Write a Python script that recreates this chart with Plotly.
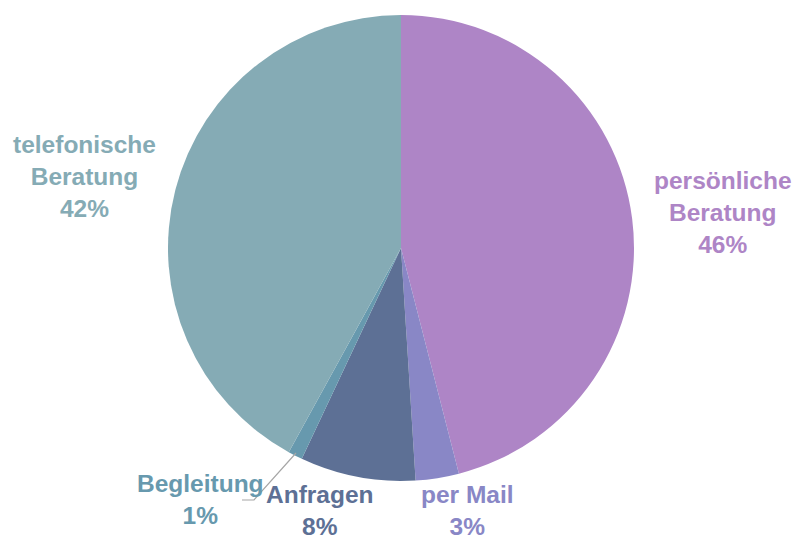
import plotly.graph_objects as go

# Anteile der Beratungsformen (in %)
labels = ['persönliche<br>Beratung', 'per Mail', 'Anfragen', 'Begleitung', 'telefonische<br>Beratung']
values = [46, 3, 8, 1, 42]
colors = ['#AE85C6', '#8987C6', '#5D7095', '#6799AE', '#85ABB5']

W, H = 795, 540


def px(x):
    return x / W


def py(y):
    return 1 - y / H


fig = go.Figure()

fig.add_trace(go.Pie(
    labels=labels,
    values=values,
    sort=False,
    direction='clockwise',
    rotation=0,
    marker=dict(colors=colors, line=dict(width=0)),
    textinfo='none',
    showlegend=False,
    domain=dict(x=[px(168), px(634)], y=[py(481), py(15)]),
    hoverinfo='label+percent'
))

# label positions (pixel centres of the text blocks)
label_pos = [(723, 212), (467, 510), (320, 510), (200, 499), (84, 176)]
total = sum(values)
for lab, val, col, (lx, ly) in zip(labels, values, colors, label_pos):
    fig.add_annotation(
        x=px(lx), y=py(ly), xref='paper', yref='paper',
        text=f'{lab}<br>{round(100 * val / total)}%',
        showarrow=False,
        xanchor='center', yanchor='middle',
        font=dict(family='Liberation Sans, Arial', size=24.5, color=col, weight='bold'),
    )

# leader line for "Begleitung"
pts = [(296, 453), (254, 500), (242, 500)]
fig.add_shape(
    type='path', xref='paper', yref='paper',
    path='M ' + ' L '.join(f'{px(x)},{py(y)}' for x, y in pts),
    line=dict(color='#A6A6A6', width=1.2),
)

fig.update_layout(
    width=W,
    height=H,
    margin=dict(l=0, r=0, t=0, b=0),
    paper_bgcolor='white',
    plot_bgcolor='white',
)

# drop the default page margin so the figure sits exactly in the window
fig.write_html(
    "out.html",
    config={'displayModeBar': False},
    post_script="document.body.style.margin='0';document.body.style.overflow='hidden';",
)
